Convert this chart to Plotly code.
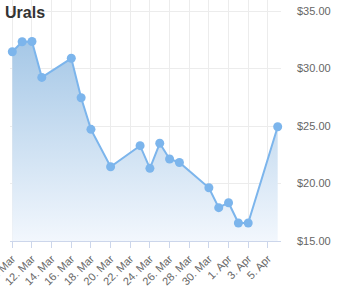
import plotly.graph_objects as go

# Urals crude price, USD per barrel
dates = [
    "2020-03-10", "2020-03-11", "2020-03-12", "2020-03-13",
    "2020-03-16", "2020-03-17", "2020-03-18", "2020-03-20",
    "2020-03-23", "2020-03-24", "2020-03-25", "2020-03-26", "2020-03-27",
    "2020-03-30", "2020-03-31", "2020-04-01", "2020-04-02", "2020-04-03",
    "2020-04-06",
]
prices = [
    31.46, 32.33, 32.35, 29.23,
    30.89, 27.46, 24.71, 21.46,
    23.29, 21.32, 23.50, 22.13, 21.83,
    19.63, 17.90, 18.33, 16.57, 16.57,
    24.94,
]
y_ticks = [15, 20, 25, 30, 35]
y_tick_labels = ["$%.2f" % v for v in y_ticks]

line_color = "#7cb5ec"
grid_color = "#ececec"
axis_color = "#ccd6eb"
label_color = "#666666"

fig = go.Figure()
fig.add_trace(go.Scatter(
    x=dates,
    y=prices,
    mode="lines+markers",
    line=dict(color=line_color, width=2),
    marker=dict(color=line_color, size=9),
    fill="tozeroy",
    fillgradient=dict(
        type="vertical",
        start=15,
        stop=35.96,
        colorscale=[[0, "rgb(242,247,253)"], [1, "rgb(150,190,226)"]],
    ),
    cliponaxis=False,
    hoverinfo="x+y",
))

fig.update_layout(
    width=345,
    height=290,
    margin=dict(l=10, r=64, t=0, b=49),
    paper_bgcolor="white",
    plot_bgcolor="white",
    showlegend=False,
    font=dict(family="Liberation Sans, Arial, sans-serif", size=11, color=label_color),
    title=dict(
        text="<b>Urals</b>",
        font=dict(size=16, color="#333333"),
        x=5 / 345,
        xanchor="left",
        xref="container",
        y=1 - 7 / 290,
        yanchor="top",
        yref="container",
    ),
    xaxis=dict(
        type="date",
        range=["2020-03-09 18:20", "2020-04-06 08:05"],
        tick0="2020-03-10",
        dtick=2 * 86400000,
        tickformat="%-d. %b",
        tickangle=-45,
        ticklabeloverflow="allow",
        automargin=False,
        showgrid=True,
        gridcolor=grid_color,
        gridwidth=1,
        showline=True,
        linecolor=axis_color,
        linewidth=1,
        ticks="outside",
        ticklen=6,
        tickcolor=axis_color,
        tickfont=dict(size=11, color=label_color),
        zeroline=False,
        fixedrange=True,
    ),
    yaxis=dict(
        side="right",
        range=[15, 35.96],
        tickmode="array",
        tickvals=y_ticks,
        ticktext=y_tick_labels,
        automargin=False,
        showgrid=True,
        gridcolor=grid_color,
        gridwidth=1,
        zeroline=False,
        showline=False,
        ticks="",
        ticklabelstandoff=15,
        tickfont=dict(size=11, color=label_color),
        fixedrange=True,
    ),
)

fig.write_html("out.html")
